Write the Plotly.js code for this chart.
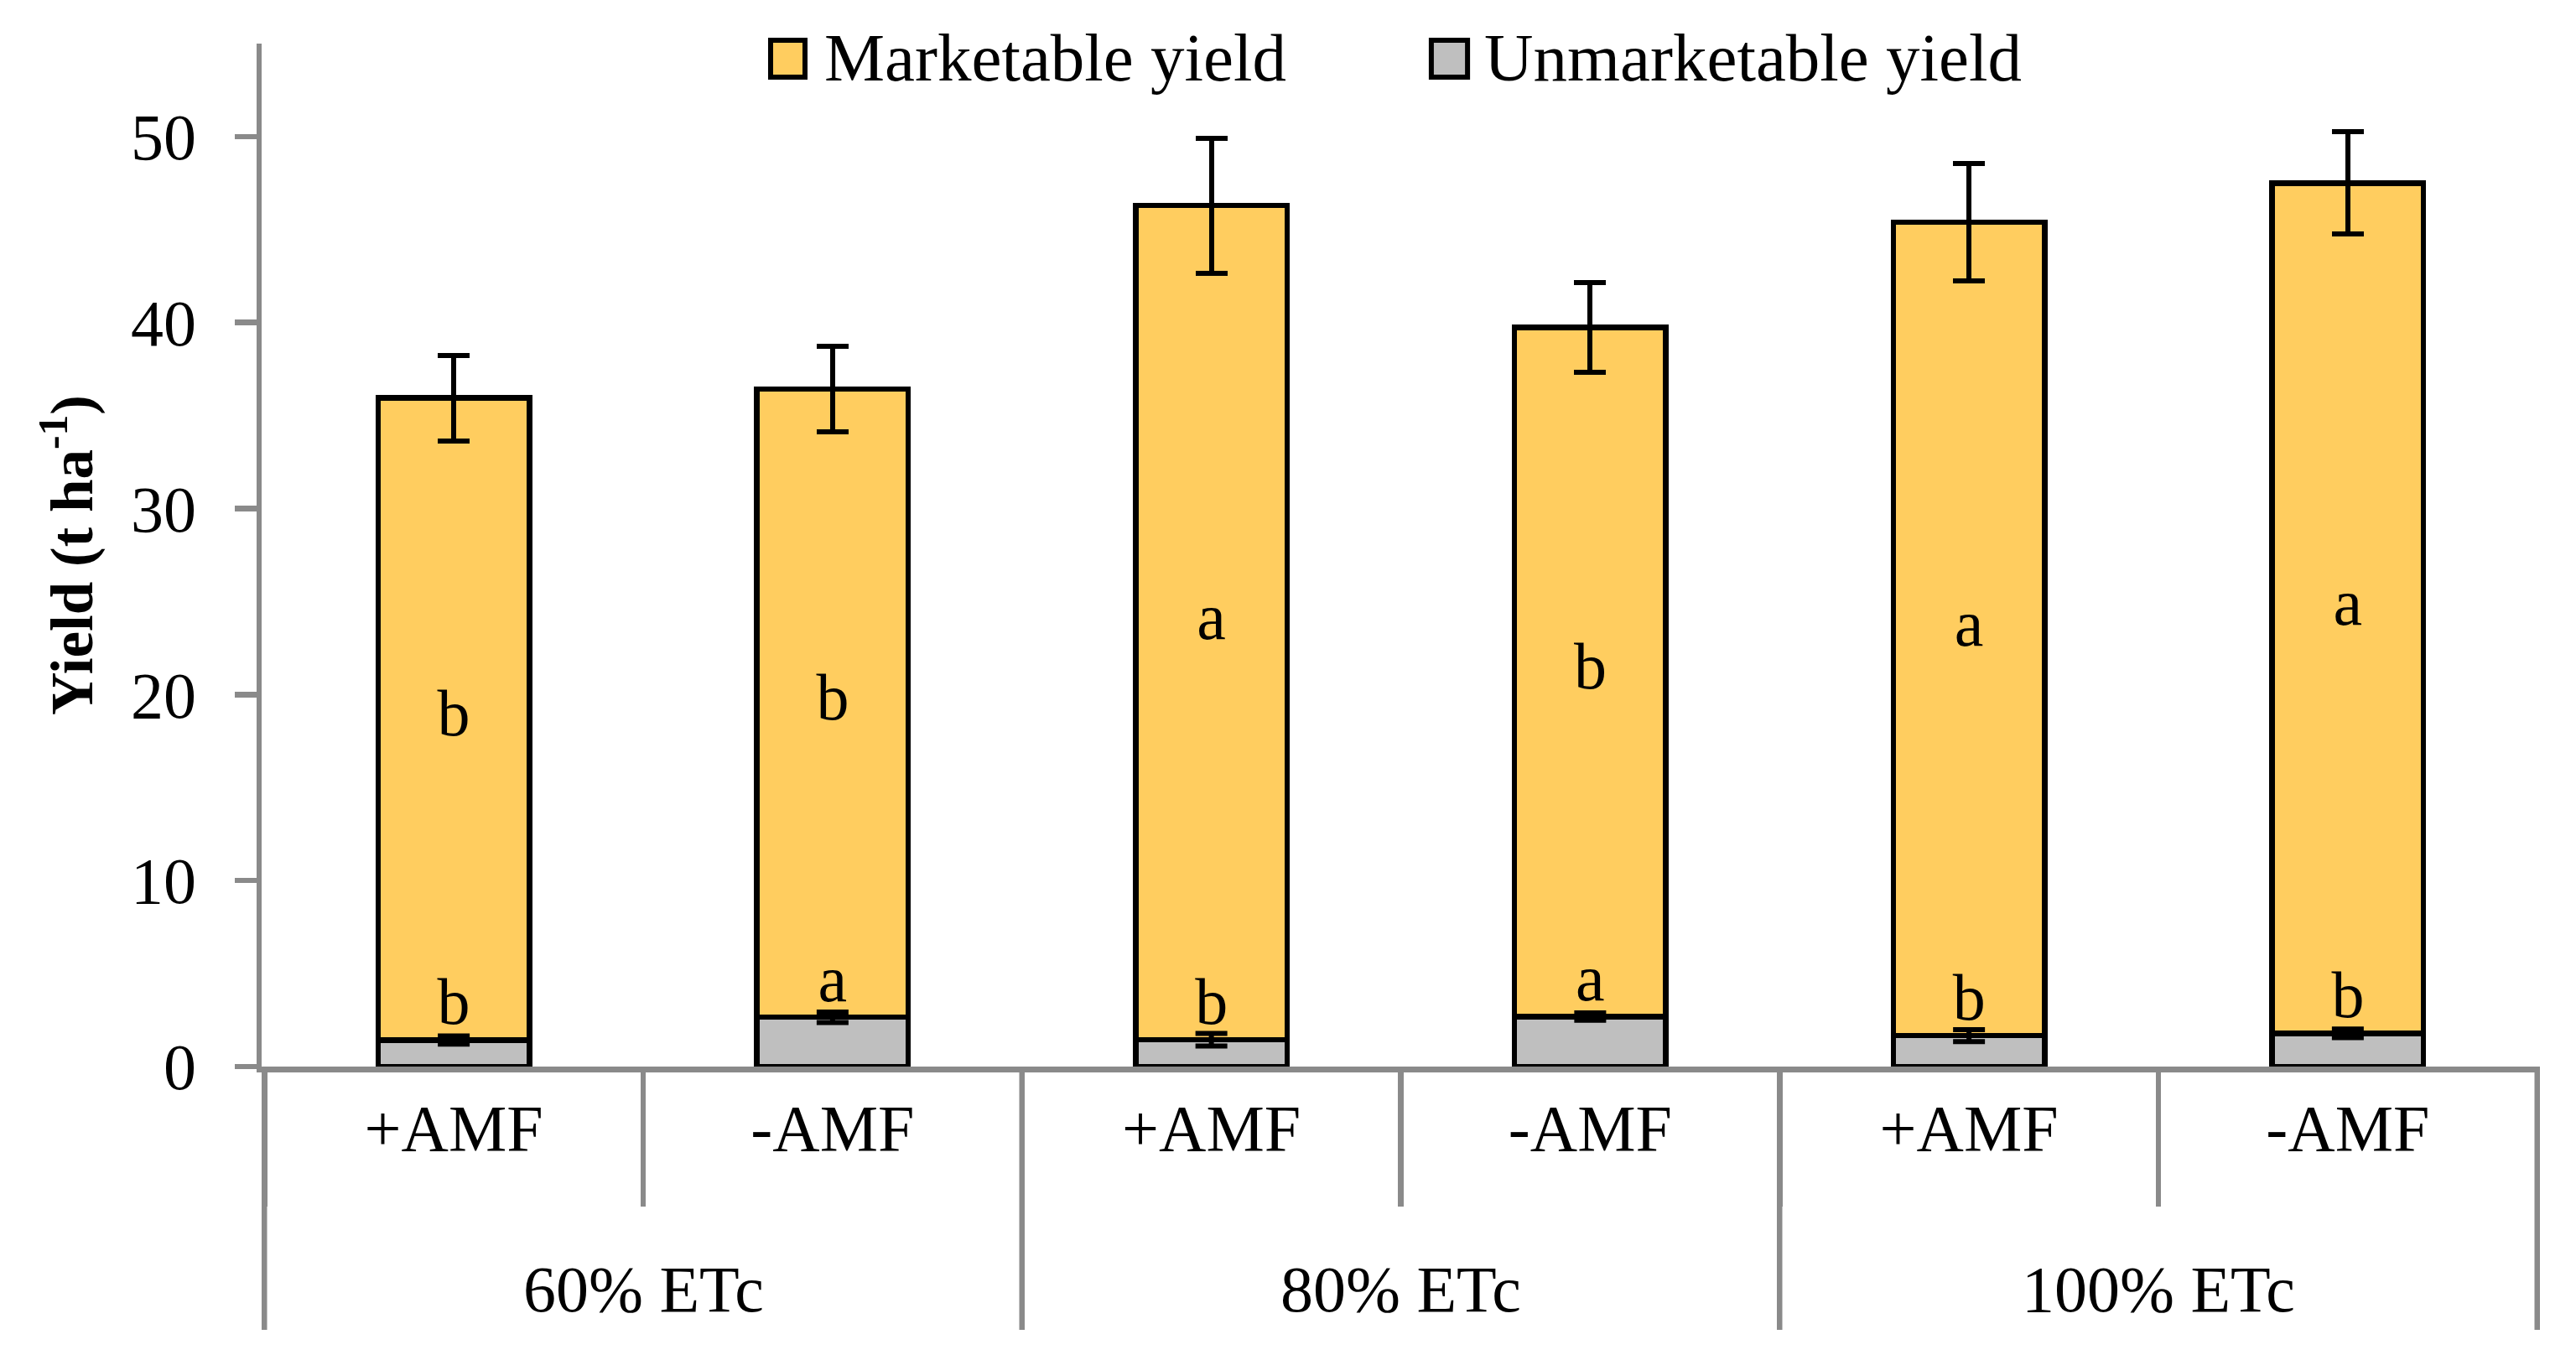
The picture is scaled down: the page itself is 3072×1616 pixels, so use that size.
<!DOCTYPE html>
<html>
<head>
<meta charset="utf-8">
<script src="https://cdn.plot.ly/plotly-3.0.1.min.js"></script>
<style>
  html, body { margin: 0; padding: 0; background: #ffffff; }
  #chart { width: 3072px; height: 1616px; }
</style>
</head>
<body>
<div id="chart"></div>
<script>
// ---- data ----
var irrigation = ["60% ETc", "60% ETc", "80% ETc", "80% ETc", "100% ETc", "100% ETc"];
var treatment = ["+AMF", "-AMF", "+AMF", "-AMF", "+AMF", "-AMF"];
var unmarketable = [1.43, 2.65, 1.44, 2.69, 1.66, 1.79];
var unmarketableErr = [0.22, 0.28, 0.34, 0.20, 0.32, 0.23];
var marketable = [34.52, 33.78, 44.85, 37.05, 43.73, 45.71];
var marketableErr = [2.30, 2.30, 3.63, 2.42, 3.16, 2.75];
var marketableLetters = ["b", "b", "a", "b", "a", "a"];
var unmarketableLetters = ["b", "a", "b", "a", "b", "b"];
var seriesNames = ["Marketable yield", "Unmarketable yield"];
var yTicks = [0, 10, 20, 30, 40, 50];

// ---- style ----
var FONT = "Liberation Serif, Times New Roman, serif";
var YELLOW = "#FFCD5F";
var GRAY = "#BFBFBF";
var AXIS = "#8A8A8A";
var FS = 78;
var LW = 6.5;

// unique category ids (one per bar), shown with the treatment labels
var xCats = irrigation.map(function (g, i) { return g + " | " + treatment[i]; });
var midMarketable = marketable.map(function (v, i) { return unmarketable[i] + v / 2; });

// group spans along the category axis (index based)
var groups = [];
irrigation.forEach(function (g, i) {
  var last = groups[groups.length - 1];
  if (!last || last.name !== g) { groups.push({ name: g, first: i, last: i }); }
  else { last.last = i; }
});

var traces = [
  {
    type: "bar", name: seriesNames[1], x: xCats, y: unmarketable,
    marker: { color: GRAY, line: { color: "#000000", width: LW } },
    hoverinfo: "y"
  },
  {
    type: "bar", name: seriesNames[0], x: xCats, y: marketable,
    marker: { color: YELLOW, line: { color: "#000000", width: LW } },
    error_y: { type: "data", array: marketableErr, visible: true, color: "#000000", thickness: 6, width: 19 },
    hoverinfo: "y"
  },
  {
    type: "scatter", mode: "text", x: xCats, y: unmarketable,
    text: unmarketableLetters, textposition: "top center",
    textfont: { family: FONT, size: FS, color: "#000000" },
    error_y: { type: "data", array: unmarketableErr, visible: true, color: "#000000", thickness: 6, width: 19 },
    hoverinfo: "skip", showlegend: false
  },
  {
    type: "scatter", mode: "text", x: xCats, y: midMarketable,
    text: marketableLetters, textposition: "middle center",
    textfont: { family: FONT, size: FS, color: "#000000" },
    hoverinfo: "skip", showlegend: false
  }
];

// group labels and long separators below the axis
var groupAnnotations = groups.map(function (gr) {
  return {
    xref: "x", yref: "paper", x: (gr.first + gr.last) / 2, y: -0.218,
    xanchor: "center", yanchor: "middle", showarrow: false, text: gr.name,
    font: { family: FONT, size: FS, color: "#000000" }
  };
});
var sepPositions = groups.map(function (gr) { return gr.first - 0.5; });
sepPositions.push(groups[groups.length - 1].last + 0.5);
var groupSeparators = sepPositions.map(function (p) {
  return {
    type: "line", xref: "x", yref: "paper", x0: p, x1: p, y0: 0, y1: -0.2574,
    line: { color: AXIS, width: LW }, layer: "above"
  };
});

var layout = {
  width: 3072, height: 1616,
  margin: { l: 312, r: 43, t: 52, b: 344, pad: 0 },
  paper_bgcolor: "#ffffff", plot_bgcolor: "#ffffff",
  barmode: "stack", bargap: 0.6,
  showlegend: false,
  font: { family: FONT, size: FS, color: "#000000" },
  xaxis: {
    type: "category",
    tickvals: xCats, ticktext: treatment,
    tickson: "boundaries",
    showline: true, linecolor: AXIS, linewidth: LW,
    ticks: "outside", ticklen: 160, tickwidth: LW, tickcolor: AXIS,
    tickfont: { family: FONT, size: FS, color: "#000000" },
    showgrid: false, zeroline: false
  },
  yaxis: {
    range: [0, 55],
    tickvals: yTicks,
    showline: true, linecolor: AXIS, linewidth: LW,
    ticks: "outside", ticklen: 26, tickwidth: LW, tickcolor: AXIS,
    ticklabelstandoff: 30,
    tickfont: { family: FONT, size: FS, color: "#000000" },
    showgrid: false, zeroline: false,
    title: { text: "<b>Yield (t ha<sup>-1</sup>)</b>", font: { family: FONT, size: 71, color: "#000000" }, standoff: 24 }
  },
  shapes: [
    { type: "rect", xref: "paper", yref: "paper", x0: 0.2234, x1: 0.2385, y0: 0.9672, y1: 1.0033,
      fillcolor: YELLOW, line: { color: "#000000", width: 6 } },
    { type: "rect", xref: "paper", yref: "paper", x0: 0.5134, x1: 0.5293, y0: 0.9672, y1: 1.0033,
      fillcolor: GRAY, line: { color: "#000000", width: 6 } }
  ].concat(groupSeparators),
  annotations: [
    { xref: "paper", yref: "paper", x: 0.2462, y: 0.986, xanchor: "left", yanchor: "middle",
      text: seriesNames[0], showarrow: false, font: { family: FONT, size: 81, color: "#000000" } },
    { xref: "paper", yref: "paper", x: 0.5359, y: 0.986, xanchor: "left", yanchor: "middle",
      text: seriesNames[1], showarrow: false, font: { family: FONT, size: 81, color: "#000000" } }
  ].concat(groupAnnotations)
};

Plotly.newPlot("chart", traces, layout, { displayModeBar: false, staticPlot: true });
</script>
</body>
</html>
